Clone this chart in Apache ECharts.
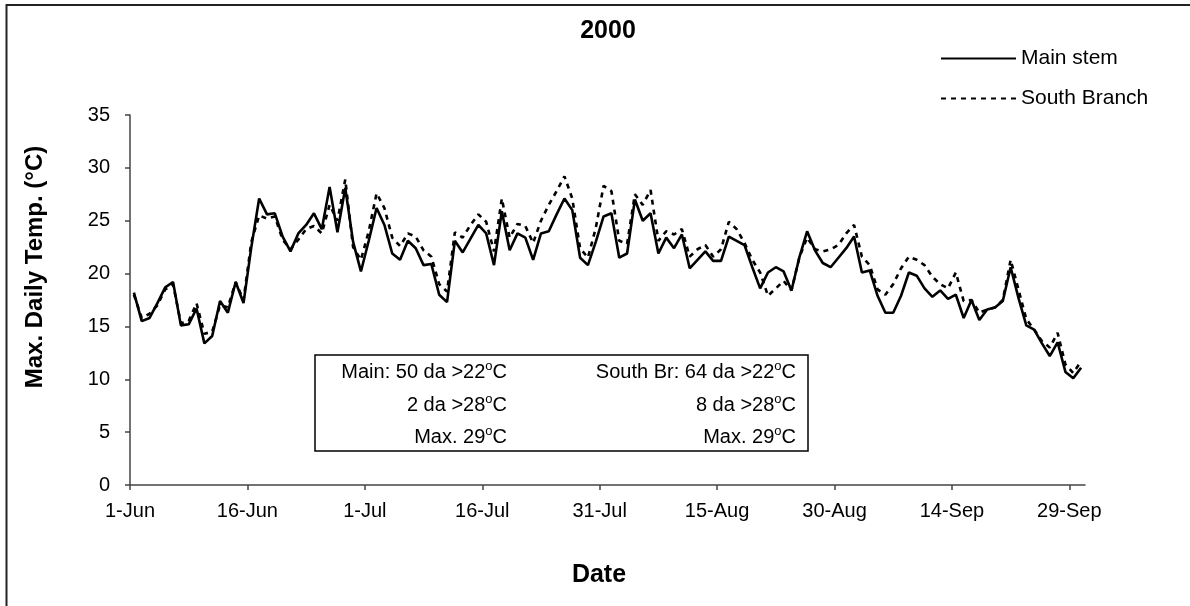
<!DOCTYPE html>
<html>
<head>
<meta charset="utf-8">
<script src="https://cdn.jsdelivr.net/npm/echarts@6/dist/echarts.min.js"></script>
<style>
html,body{margin:0;padding:0;background:#fff;}
#chart{width:1190px;height:606px;}
</style>
</head>
<body>
<div id="chart"></div>
<script>
// Daily max temperature, 1-Jun .. 30-Sep 2000 (122 days)
const mainStem = [
  18.2,15.5,15.8,17.2,18.7,19.2,15.1,15.2,16.7,13.4,
  14.1,17.4,16.3,19.2,17.2,22.5,27.1,25.6,25.7,23.5,
  22.1,23.8,24.6,25.7,24.2,28.2,23.9,28.1,23.0,20.2,
  23.1,26.2,24.6,21.9,21.3,23.1,22.4,20.8,20.9,18.0,
  17.3,23.1,22.0,23.3,24.6,23.8,20.8,25.9,22.2,23.8,
  23.4,21.3,23.8,24.0,25.6,27.1,26.0,21.5,20.8,23.0,
  25.4,25.7,21.5,21.9,27.0,25.0,25.7,21.9,23.4,22.4,
  23.7,20.5,21.3,22.1,21.2,21.2,23.5,23.1,22.7,20.6,
  18.6,20.1,20.6,20.2,18.4,21.5,24.0,22.2,21.0,20.6,
  21.5,22.4,23.5,20.1,20.3,17.9,16.3,16.3,17.9,20.1,
  19.8,18.6,17.8,18.4,17.6,18.0,15.8,17.5,15.6,16.6,
  16.8,17.4,20.6,17.7,15.1,14.7,13.4,12.2,13.5,10.7,
  10.1,11.1
];
const southBranch = [
  18.0,15.8,16.2,17.0,18.5,19.0,15.3,15.5,17.2,14.3,
  14.5,17.0,16.8,19.2,17.5,23.0,25.5,25.2,25.4,23.2,
  22.3,23.2,24.2,24.5,23.8,26.5,25.0,28.9,22.5,21.3,
  24.0,27.6,26.2,23.4,22.6,23.8,23.5,22.2,21.6,19.0,
  18.3,23.9,23.4,24.6,25.6,24.9,22.1,27.1,23.4,24.7,
  24.5,22.9,25.0,26.5,27.8,29.2,27.1,22.4,21.5,24.3,
  28.3,27.8,23.1,22.8,27.5,26.5,27.9,23.1,24.0,23.7,
  24.2,21.6,22.3,22.7,21.6,22.3,24.9,24.2,22.9,21.3,
  20.1,17.9,18.6,19.3,18.4,21.5,23.4,22.3,22.1,22.3,
  22.7,23.8,24.6,21.6,20.8,18.5,18.0,19.0,20.5,21.6,
  21.3,20.8,19.7,19.0,18.6,20.1,17.4,17.5,16.3,16.6,
  16.8,17.5,21.3,18.5,15.7,14.7,13.6,13.0,14.4,11.4,
  10.6,11.7
];
const tickLabels = ['1-Jun','16-Jun','1-Jul','16-Jul','31-Jul','15-Aug','30-Aug','14-Sep','29-Sep'];
const tickDays = [0,15,30,45,60,75,90,105,120];
const seriesNames = ['Main stem','South Branch'];
const boxLeft = ['Main: 50 da >22|C','2 da >28|C','Max. 29|C'];
const boxRight = ['South Br: 64 da >22|C','8 da >28|C','Max. 29|C'];

const toPairs = arr => arr.map((v, i) => [i + 0.5, v]);
const FONT = "'Liberation Sans', Arial, sans-serif";
const supRich = {
  n: {fontSize: 20, fontFamily: FONT, fill: '#000', lineHeight: 24},
  s: {fontSize: 13, fontFamily: FONT, fill: '#000', lineHeight: 14, verticalAlign: 'top'}
};
const supText = s => { const p = s.split('|'); return '{n|' + p[0] + '}{s|o}{n|' + p[1] + '}'; };

const chart = echarts.init(document.getElementById('chart'));
const rowsY = [372, 405, 437];
const boxTexts = [];
rowsY.forEach((y, i) => {
  boxTexts.push({type: 'text', x: 507, y: y, style: {text: supText(boxLeft[i]), rich: supRich, align: 'right', verticalAlign: 'middle'}});
  boxTexts.push({type: 'text', x: 796, y: y, style: {text: supText(boxRight[i]), rich: supRich, align: 'right', verticalAlign: 'middle'}});
});

chart.setOption({
  backgroundColor: '#fff',
  animation: false,
  title: {
    text: '2000', left: 603, top: 14, textAlign: 'center',
    textStyle: {fontFamily: FONT, fontWeight: 'bold', fontSize: 25, color: '#000'}
  },
  legend: {
    orient: 'vertical', left: 935, top: 43, itemWidth: 75, itemHeight: 20, itemGap: 19,
    itemStyle: {opacity: 0},
    textStyle: {fontFamily: FONT, fontSize: 21, color: '#000'},
    data: seriesNames
  },
  grid: {left: 130, right: 105, top: 115, bottom: 121, containLabel: false},
  xAxis: {
    type: 'value', min: 0, max: 122,
    axisLine: {show: true, onZero: false, lineStyle: {color: '#444', width: 1.5}},
    axisTick: {show: true, inside: false, length: 5, customValues: tickDays, lineStyle: {color: '#444', width: 1.5}},
    axisLabel: {
      customValues: tickDays, margin: 16, fontFamily: FONT, fontSize: 20, color: '#000',
      formatter: v => { const k = tickDays.indexOf(Math.round(v)); return k >= 0 ? tickLabels[k] : ''; }
    },
    splitLine: {show: false}
  },
  yAxis: {
    type: 'value', min: 0, max: 35, interval: 5,
    axisLine: {show: true, lineStyle: {color: '#444', width: 1.5}},
    axisTick: {show: true, inside: false, length: 5, lineStyle: {color: '#444', width: 1.5}},
    axisLabel: {margin: 20, fontFamily: FONT, fontSize: 20, color: '#000'},
    splitLine: {show: false}
  },
  series: [
    {name: seriesNames[0], type: 'line', data: toPairs(mainStem), symbol: 'none',
     lineStyle: {color: '#000', width: 2.6, type: 'solid'}, itemStyle: {color: '#000'}, z: 3},
    {name: seriesNames[1], type: 'line', data: toPairs(southBranch), symbol: 'none',
     lineStyle: {color: '#000', width: 2.6, type: [5, 5]}, itemStyle: {color: '#000'}, z: 2}
  ],
  graphic: [
    {type: 'rect', shape: {x: 6.5, y: 5, width: 1300, height: 800}, style: {fill: 'none', stroke: '#222', lineWidth: 2}, silent: true},
    {type: 'text', x: 35, y: 267, rotation: Math.PI / 2,
     style: {text: 'Max. Daily Temp. (°C)', font: "bold 24px 'Liberation Sans', Arial, sans-serif", fill: '#000', align: 'center', verticalAlign: 'middle'}},
    {type: 'text', x: 599, y: 575,
     style: {text: 'Date', font: "bold 25px 'Liberation Sans', Arial, sans-serif", fill: '#000', align: 'center', verticalAlign: 'middle'}},
    {type: 'rect', shape: {x: 315, y: 355, width: 493, height: 96}, style: {fill: '#fff', stroke: '#000', lineWidth: 1.5}, z: 10},
    ...boxTexts.map(t => Object.assign(t, {z: 11}))
  ]
});
</script>
</body>
</html>
